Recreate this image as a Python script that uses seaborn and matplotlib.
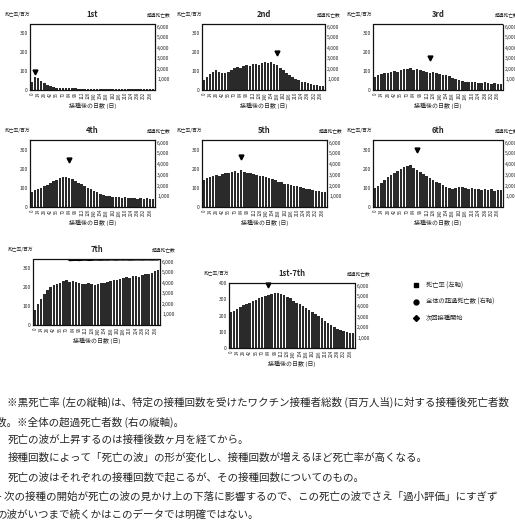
import numpy as np
import pandas as pd
import matplotlib
matplotlib.use("Agg")
import matplotlib.pyplot as plt
from matplotlib.lines import Line2D
import seaborn as sns

sns.set_style("white")
plt.rcParams['font.family'] = ['Noto Sans CJK JP', 'DejaVu Sans']

# 接種後の日数 (週ごと)
days = [7 * i for i in range(40)]

rate_1st = [45, 70, 62, 48, 35, 26, 20, 16, 13, 11, 10, 9, 9, 8, 8, 7, 7, 7, 6, 6,
            6, 6, 5, 5, 5, 5, 5, 5, 4, 4, 4, 4, 4, 4, 4, 3, 3, 3, 3, 3]
rate_2nd = [55, 70, 85, 98, 105, 96, 92, 88, 95, 108, 115, 120, 118, 125, 132, 128, 138, 140, 135, 145,
            150, 142, 148, 140, 130, 118, 105, 92, 80, 70, 60, 52, 45, 40, 35, 30, 28, 25, 22, 20]
rate_3rd = [70, 78, 85, 90, 88, 95, 100, 98, 105, 110, 112, 115, 108, 112, 105, 100, 98, 92, 95, 88,
            85, 80, 78, 72, 65, 58, 52, 48, 45, 42, 40, 42, 38, 36, 40, 35, 33, 36, 32, 30]
rate_4th = [80, 88, 95, 100, 108, 115, 125, 135, 142, 150, 155, 158, 152, 145, 135, 125, 118, 108, 100, 92,
            85, 78, 70, 62, 58, 55, 52, 50, 52, 48, 50, 47, 45, 48, 44, 46, 42, 45, 43, 40]
rate_5th = [140, 150, 158, 162, 168, 160, 170, 175, 180, 185, 190, 178, 192, 185, 180, 175, 170, 168, 160, 162,
            155, 150, 145, 140, 132, 128, 122, 118, 115, 112, 108, 105, 100, 95, 92, 90, 85, 82, 80, 78]
rate_6th = [100, 110, 125, 140, 155, 168, 180, 190, 200, 210, 215, 218, 205, 195, 182, 170, 160, 150, 140, 132,
            125, 115, 105, 98, 95, 100, 105, 102, 98, 95, 100, 92, 96, 90, 95, 88, 92, 85, 90, 88]
rate_7th = [80, 110, 140, 165, 185, 200, 210, 215, 225, 232, 238, 230, 235, 228, 225, 220, 218, 222, 215, 212,
            218, 225, 222, 230, 235, 240, 238, 245, 250, 255, 248, 258, 262, 255, 265, 270, 268, 278, 285, 290]
rate_all = [220, 230, 240, 250, 262, 270, 280, 288, 295, 305, 312, 320, 328, 332, 338, 340, 335, 325, 315, 305,
            292, 280, 268, 258, 245, 232, 220, 208, 195, 182, 168, 155, 142, 130, 120, 112, 105, 100, 95, 90]

# 次回接種開始 (週の位置, 左軸の高さ)
next_dose = {"1st": (1, 98), "2nd": (24, 195), "3rd": (17, 172), "4th": (12, 245),
             "5th": (12, 262), "6th": (13, 298), "1st-7th": (12, 388)}

# 全体の超過死亡数 (右軸, 7th)
excess_7th_weeks = list(range(11, 40))
excess_7th = [6180, 6200, 6210, 6190, 6220, 6230, 6200, 6210, 6240, 6230, 6220, 6240, 6230, 6250, 6240,
              6230, 6250, 6240, 6250, 6230, 6240, 6250, 6250, 6240, 6250, 6250, 6240, 6250, 6250]

panels = [
    ("1st", rate_1st, (30, 24, 155, 90), 350),
    ("2nd", rate_2nd, (202, 24, 325, 90), 350),
    ("3rd", rate_3rd, (373, 24, 503, 90), 350),
    ("4th", rate_4th, (30, 140, 155, 207), 350),
    ("5th", rate_5th, (202, 140, 327, 207), 350),
    ("6th", rate_6th, (373, 140, 503, 207), 350),
    ("7th", rate_7th, (33, 259, 160, 325), 350),
    ("1st-7th", rate_all, (229, 283, 355, 348), 400),
]

W, H = 515, 520
fig = plt.figure(figsize=(W / 100, H / 100), dpi=100)

dot = (0, (1, 0.8))
for name, vals, (x0, y0, x1, y1), ymax in panels:
    ax = fig.add_axes([x0 / W, 1 - y1 / H, (x1 - x0) / W, (y1 - y0) / H])
    df = pd.DataFrame({"day": days, "rate": vals})
    sns.barplot(data=df, x="day", y="rate", color="#2a2a2a", saturation=1,
                width=0.8, ax=ax, linewidth=0)
    ax.set_ylim(0, ymax)
    ax.set_yticks(np.arange(0, ymax + 1, 100))
    ax.set_yticklabels([str(v) for v in np.arange(0, ymax + 1, 100)], fontsize=3.6)
    ax.set_xticks(range(0, 40, 2))
    ax.set_xticklabels([str(days[i]) for i in range(0, 40, 2)], rotation=90, fontsize=3.2)
    ax.tick_params(length=0, pad=1.5)
    ax.set_xlim(-0.6, 39.6)
    ax.set_ylabel("")
    ax.set_xlabel("接種後の日数 (日)", fontsize=4.3, labelpad=2)
    ax.set_title(name, fontsize=5.5, fontweight="bold", pad=5)
    for s in ax.spines.values():
        s.set_linestyle(dot)
        s.set_linewidth(0.8)
        s.set_color("#111111")

    ax2 = ax.twinx()
    ax2.set_ylim(0, 6250)
    ax2.set_yticks(range(1000, 6001, 1000))
    ax2.set_yticklabels([f"{v:,}" for v in range(1000, 6001, 1000)], fontsize=3.6)
    ax2.tick_params(length=0, pad=1.5)
    for s in ax2.spines.values():
        s.set_linestyle(dot)
        s.set_linewidth(0.8)
        s.set_color("#111111")

    if name in next_dose:
        nx, ny = next_dose[name]
        ax.plot([nx], [ny], marker="v", color="black", markersize=3.5, linestyle="none", clip_on=False)
    if name == "7th":
        ax2.plot(excess_7th_weeks, excess_7th, color="black", linewidth=2.2)
        ax2.set_xlim(-0.6, 39.6)

    ax.text(-0.1, 1.14, "死亡率/百万", transform=ax.transAxes, fontsize=3.4, ha="center", va="center")
    ax.text(1.03, 1.14, "超過死亡数", transform=ax.transAxes, fontsize=3.4, ha="center", va="center")

handles = [
    Line2D([], [], marker="s", color="black", linestyle="none", markersize=3.5),
    Line2D([], [], marker="o", color="black", linestyle="none", markersize=3.5),
    Line2D([], [], marker="D", color="black", linestyle="none", markersize=3),
]
labels = ["死亡率 (左軸)", "全体の超過死亡数 (右軸)", "次回接種開始"]
fig.legend(handles, labels, loc="upper left", bbox_to_anchor=(408 / W, 1 - 276 / H),
           frameon=False, fontsize=4.5, handlelength=0.8, handletextpad=1.2, labelspacing=1.3)

notes = [
    (7, 402, "※黒死亡率 (左の縦軸)は、特定の接種回数を受けたワクチン接種者総数 (百万人当)に対する接種後死亡者数"),
    (-4, 422, "数。※全体の超過死亡者数 (右の縦軸)。"),
    (8, 440, "死亡の波が上昇するのは接種後数ヶ月を経てから。"),
    (8, 458, "接種回数によって「死亡の波」の形が変化し、接種回数が増えるほど死亡率が高くなる。"),
    (8, 477, "死亡の波はそれぞれの接種回数で起こるが、その接種回数についてのもの。"),
    (-2, 497, "- 次の接種の開始が死亡の波の見かけ上の下落に影響するので、この死亡の波でさえ「過小評価」にすぎず"),
    (-4, 515, "の波がいつまで続くかはこのデータでは明確ではない。"),
]
for x, y, t in notes:
    fig.text(x / W, 1 - y / H, t, fontsize=7.6, va="center", ha="left")

fig.savefig("out.png", dpi=100)
